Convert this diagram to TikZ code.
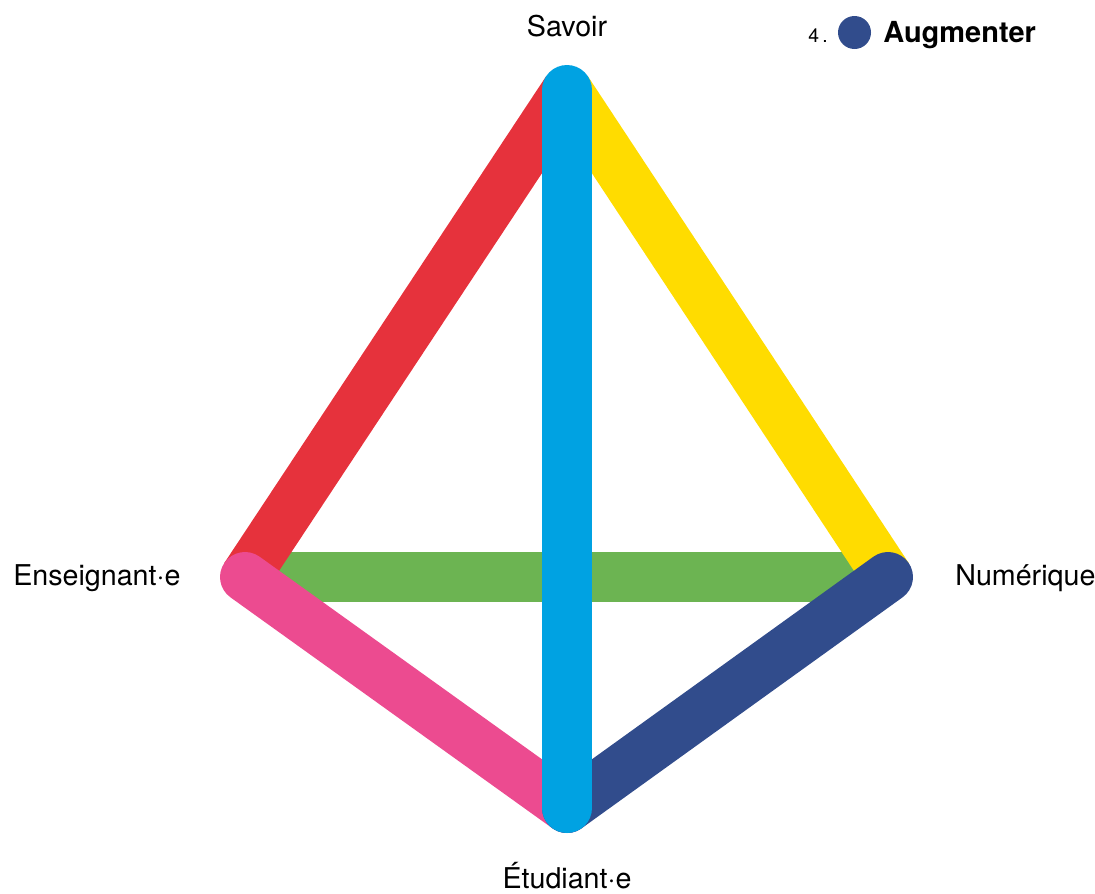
\documentclass[tikz,border=0pt]{standalone}
\usepackage{fontspec}
\setmainfont{TeX Gyre Heros}
\usepackage{xcolor}
\definecolor{edgered}{HTML}{E6323C}
\definecolor{edgeyellow}{HTML}{FFDC00}
\definecolor{edgegreen}{HTML}{6CB452}
\definecolor{edgepink}{HTML}{EC4B90}
\definecolor{edgenavy}{HTML}{314C8C}
\definecolor{edgeblue}{HTML}{00A2E2}

\begin{document}
\begin{tikzpicture}[
      x=0.02cm, y=-0.02cm,
      every node/.style={font=\fontsize{16.3}{19}\selectfont, inner sep=0pt},
      edge/.style={line width=1cm, line cap=butt},
      roundedge/.style={line width=1cm, line cap=round},
      vlabel/.style={anchor=base},
    ]
    \useasboundingbox (0,0) rectangle (1095,893);

    % corners of the tetrahedron
    \coordinate (sav) at (567, 90);
    \coordinate (ens) at (245, 577);
    \coordinate (num) at (888, 577);
    \coordinate (etu) at (567, 808);

    % back edges
    \draw[edge, edgegreen]  (ens) -- (num);
    \draw[edge, edgered]    (ens) -- (sav);
    \draw[edge, edgeyellow] (num) -- (sav);

    % front edges
    \draw[roundedge, edgepink] (ens) -- (etu);
    \draw[roundedge, edgenavy] (num) -- (etu);
    \draw[roundedge, edgeblue] (sav) -- (etu);

    % corner labels
    \node[vlabel]                  (savlbl) at (567, 36)  {Savoir};
    \node[vlabel, anchor=base west] (enslbl) at (13, 585)  {Enseignant·e};
    \node[vlabel, anchor=base west] (numlbl) at (955, 585) {Numérique};
    \node[vlabel]                  (etulbl) at (567, 888) {Étudiant·e};

    % legend
    \node[anchor=base west, font=\fontsize{11}{13}\selectfont]
      (keynum) at (808, 42) {4\,.};
    \node[circle, fill=edgenavy, minimum size=0.66cm] (keydot) at (854.5, 32.5) {};
    \node[anchor=base west, font=\fontsize{16.5}{20}\selectfont\bfseries]
      (keytxt) at (883, 42) {Augmenter};
  \end{tikzpicture}
\end{document}
